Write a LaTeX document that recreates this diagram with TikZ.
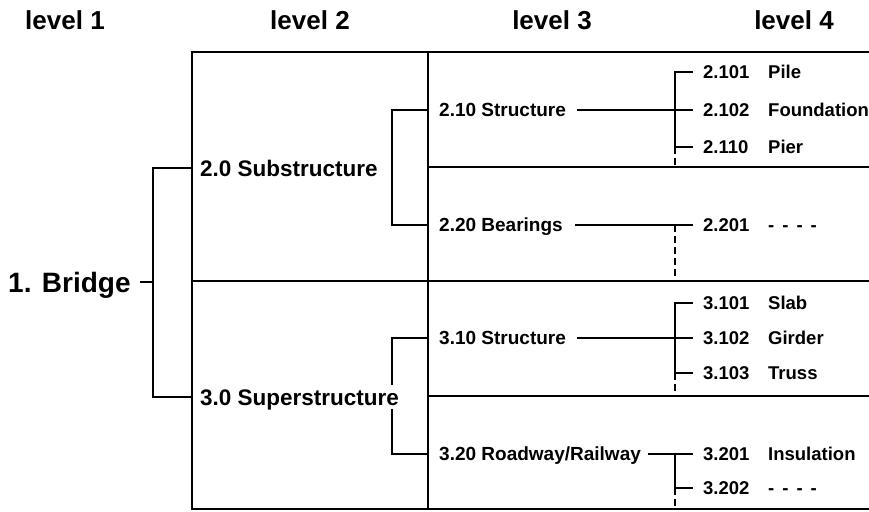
\documentclass[tikz,border=0pt]{standalone}
\usepackage{fontspec}
\setmainfont{Liberation Sans}
\begin{document}
\begin{tikzpicture}[x=1pt,y=-1pt,
  lbl/.style={inner xsep=0pt, inner ysep=4pt, text depth=0pt, anchor=west},
  hdr/.style={anchor=base, font=\fontsize{26}{30}\selectfont\bfseries},
  lone/.style={lbl, text height=20pt, font=\fontsize{28}{32}\selectfont\bfseries},
  ltwo/.style={lbl, text height=16pt, font=\fontsize{22.5}{26}\selectfont\bfseries},
  lthree/.style={lbl, text height=13.6pt, font=\fontsize{19}{22}\selectfont\bfseries},
  lfour/.style={lbl, text height=13.2pt, font=\fontsize{18.5}{21}\selectfont\bfseries},
  gridline/.style={line width=2pt},
  link/.style={line width=1.8pt},
  dashlink/.style={line width=1.8pt, dash pattern=on 7pt off 4pt}
]
\useasboundingbox (0,0) rectangle (869,511);

% headers
\node[hdr] (h1) at (65,30) {level 1};
\node[hdr] (h2) at (310,30) {level 2};
\node[hdr] (h3) at (552,30) {level 3};
\node[hdr] (h4) at (794,30) {level 4};

% table frame
\coordinate (TL) at (192,52);  \coordinate (TR) at (880,52);
\coordinate (BL) at (192,509); \coordinate (BR) at (880,509);
\coordinate (ML) at (192,281); \coordinate (MR) at (880,281);
\coordinate (CT) at (428,52);  \coordinate (CB) at (428,509);
\coordinate (UL) at (428,167); \coordinate (UR) at (880,167);
\coordinate (LL) at (428,396); \coordinate (LR) at (880,396);
\coordinate (vx) at (675,0);
\draw[gridline] (TR) -- (TL) -- (BL) -- (BR);
\draw[gridline] (ML) -- (MR);
\draw[gridline] (CT) -- (CB);
\draw[gridline] (UL) -- (UR);
\draw[gridline] (LL) -- (LR);

% level 1
\node[lone] (bridge) at (8,282) {1. Bridge};
\coordinate (b1m) at (153,282);
\coordinate (b1t) at (153,168);
\coordinate (b1b) at (153,397);
\draw[link] ([xshift=9pt]bridge.east) -- (b1m);
\draw[link] (TL |- b1t) -- (b1t) -- (b1b) -- (TL |- b1b);

% level 3 nodes
\node[lthree] (s210) at (439,110) {2.10 Structure};
\node[lthree] (s220) at (439,225) {2.20 Bearings};
\node[lthree] (s310) at (439,338) {3.10 Structure};
\node[lthree] (s320) at (439,454) {3.20 Roadway/Railway};

% level 2 brackets
\coordinate (k2x) at (392,0);
\draw[link] (CT |- s210.west) -- (k2x |- s210.west) -- (k2x |- s220.west) -- (CT |- s220.west);
\draw[link] (CT |- s310.west) -- (k2x |- s310.west) -- (k2x |- s320.west) -- (CT |- s320.west);

% level 2 nodes
\node[ltwo] (sub) at (200,168) {2.0 Substructure};
\node[ltwo, fill=white] (sup) at (200,397) {3.0 Superstructure};

% level 4 nodes
\node[lfour] (n2101) at (703,72)  {2.101}; \node[lfour] (t2101) at (768,72)  {Pile};
\node[lfour] (n2102) at (703,110) {2.102}; \node[lfour] (t2102) at (768,110) {Foundation};
\node[lfour] (n2110) at (703,147) {2.110}; \node[lfour] (t2110) at (768,147) {Pier};
\node[lfour] (n2201) at (703,225) {2.201}; \node[lfour] (t2201) at (768,225) {-\hspace{8pt}-\hspace{8pt}-\hspace{8pt}-};
\node[lfour] (n3101) at (703,303) {3.101}; \node[lfour] (t3101) at (768,303) {Slab};
\node[lfour] (n3102) at (703,338) {3.102}; \node[lfour] (t3102) at (768,338) {Girder};
\node[lfour] (n3103) at (703,373) {3.103}; \node[lfour] (t3103) at (768,373) {Truss};
\node[lfour] (n3201) at (703,454) {3.201}; \node[lfour] (t3201) at (768,454) {Insulation};
\node[lfour] (n3202) at (703,488) {3.202}; \node[lfour] (t3202) at (768,488) {-\hspace{8pt}-\hspace{8pt}-\hspace{8pt}-};

% 2.10
\draw[link] ([xshift=11pt]s210.east) -- ([xshift=-10pt]n2102.west);
\draw[link] ([xshift=-10pt]n2101.west) -- (vx |- n2101.west) -- (vx |- n2110.west) -- ([xshift=-10pt]n2110.west);
\draw[dashlink] (vx |- n2110.west) -- (vx |- UL);
% 2.20
\draw[link] ([xshift=12pt]s220.east) -- ([xshift=-10pt]n2201.west);
\draw[dashlink] (vx |- n2201.west) -- (vx |- ML);
% 3.10
\draw[link] ([xshift=11pt]s310.east) -- ([xshift=-10pt]n3102.west);
\draw[link] ([xshift=-10pt]n3101.west) -- (vx |- n3101.west) -- (vx |- n3103.west) -- ([xshift=-10pt]n3103.west);
\draw[dashlink] (vx |- n3103.west) -- (vx |- LL);
% 3.20
\draw[link] ([xshift=7pt]s320.east) -- ([xshift=-10pt]n3201.west);
\draw[link] (vx |- n3201.west) -- (vx |- n3202.west) -- ([xshift=-10pt]n3202.west);
\draw[dashlink] (vx |- n3202.west) -- (vx |- BL);
\end{tikzpicture}
\end{document}
